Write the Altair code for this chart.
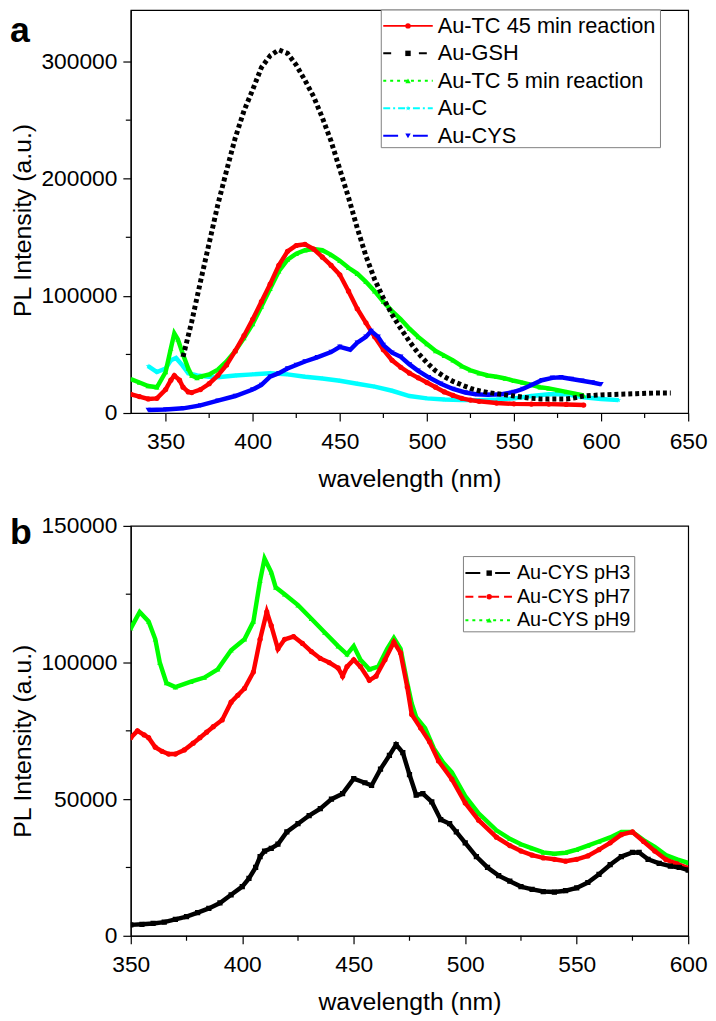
import altair as alt
import pandas as pd

FONT = "Liberation Sans"

# ---------------- Panel a data ----------------
a_names = ["Au-TC 45 min reaction", "Au-GSH", "Au-TC 5 min reaction", "Au-C", "Au-CYS"]
a_colors = ["#ff0000", "#000000", "#00ff00", "#00ffff", "#0000ff"]

tc45_nm = [330, 335, 340, 345, 350, 353, 355, 358, 360, 363, 365, 370, 375, 380, 385, 390, 395, 400, 405, 410,
           415, 420, 425, 430, 435, 440, 445, 450, 455, 460, 465, 470, 475, 480, 485, 490, 495, 500, 505, 510,
           515, 520, 525, 530, 540, 550, 560, 570, 580, 590]
tc45_val = [16000, 14000, 12000, 12500, 20000, 28000, 32000, 28000, 22000, 18000, 17500, 20000, 25000, 32000,
            41000, 53000, 66000, 80000, 95000, 110000, 126000, 138000, 143000, 144000, 140000, 133000, 126000,
            118000, 104000, 89000, 77000, 65000, 54000, 45000, 39000, 34000, 30000, 26000, 22000, 18000, 15000,
            12500, 11000, 10000, 8500, 7800, 7600, 7600, 7300, 6800]

gsh_nm = [360, 365, 370, 375, 380, 385, 390, 395, 400, 405, 410, 415, 420, 425, 430, 435, 440, 445, 450, 455,
          460, 465, 470, 475, 480, 485, 490, 495, 500, 505, 510, 515, 520, 525, 530, 535, 540, 545, 550, 555,
          560, 565, 570, 575, 580, 585, 590, 595, 600, 610, 620, 630, 640]
gsh_val = [48000, 78000, 112000, 145000, 178000, 207000, 235000, 258000, 276000, 295000, 305000, 310000, 307000,
           297000, 284000, 270000, 252000, 232000, 208000, 184000, 158000, 134000, 114000, 98000, 84000, 72000,
           61000, 51000, 43000, 36000, 31000, 27000, 24000, 21000, 19000, 17500, 16500, 15500, 14500, 13500,
           12500, 12000, 12000, 12000, 12000, 13000, 14500, 15000, 15500, 16000, 16500, 17000, 17000]

tc5_nm = [330, 335, 340, 345, 350, 353, 355, 357, 360, 363, 365, 368, 370, 375, 380, 385, 390, 395, 400, 405,
          410, 415, 420, 425, 430, 435, 440, 445, 450, 455, 460, 465, 470, 475, 480, 485, 490, 495, 500, 505,
          510, 515, 520, 525, 530, 535, 540, 545, 550, 555, 560, 565, 570, 575, 580, 585, 590]
tc5_val = [29000, 26000, 23000, 22000, 35000, 55000, 68000, 63000, 50000, 38000, 32000, 30000, 31000, 33000,
           37000, 44000, 53000, 64000, 76000, 91000, 106000, 121000, 131000, 136000, 139000, 140000, 139000,
           135000, 130000, 124000, 119000, 112000, 104000, 95000, 87000, 80000, 72000, 65000, 59000, 53000,
           49000, 45000, 40000, 36500, 34000, 32000, 31000, 29500, 27500, 26000, 24000, 22000, 21000, 19500,
           18000, 16500, 15000]

auc_nm = [340, 345, 350, 353, 356, 360, 363, 368, 375, 380, 390, 400, 410, 420, 430, 440, 450, 460, 470, 480,
          490, 500, 510, 520, 530, 540, 550, 560, 570, 580, 590, 600, 610]
auc_val = [40000, 35000, 38000, 45000, 47000, 40000, 34000, 32000, 31000, 30500, 32000, 33000, 34000, 33000,
           31000, 29500, 27500, 25000, 22500, 19000, 14500, 12500, 11500, 11000, 11000, 11500, 12500, 14500,
           16000, 16000, 13500, 12000, 11000]

cys_nm = [340, 350, 360, 370, 380, 390, 400, 405, 410, 415, 420, 425, 430, 437, 445, 450, 456, 460, 465, 468,
          472, 475, 480, 485, 490, 495, 501, 508, 515, 522, 528, 535, 543, 550, 555, 560, 566, 572, 577, 583,
          589, 595, 600]
cys_val = [2500, 3000, 4000, 6500, 10500, 14500, 20000, 24000, 31000, 34000, 38000, 41000, 44000, 47500, 52000,
           56500, 54000, 60000, 65000, 70000, 65000, 58000, 51500, 48000, 41500, 36000, 30500, 25000, 20500,
           17500, 16000, 15500, 16000, 18000, 20500, 24000, 28000, 30000, 30500, 29000, 27500, 26000, 24500]

a_x_major = [350, 400, 450, 500, 550, 600, 650]
a_x_minor = [375, 425, 475, 525, 575, 625]
a_y_major = [0, 100000, 200000, 300000]
a_y_minor = [50000, 150000, 250000]

# ---------------- Panel b data ----------------
b_names = ["Au-CYS pH3", "Au-CYS pH7", "Au-CYS pH9"]
b_colors = ["#000000", "#ff0000", "#00ff00"]

p3_nm = [350, 355, 360, 365, 370, 375, 380, 385, 390, 395, 400, 403, 406, 408, 410, 413, 416, 420, 425, 430,
         435, 440, 445, 450, 455, 458, 462, 466, 469, 472, 475, 478, 481, 485, 489, 493, 496, 500, 505, 510,
         515, 520, 525, 530, 535, 540, 545, 550, 555, 560, 565, 570, 575, 578, 582, 587, 592, 596, 600]
p3_val = [4000, 4200, 4500, 5000, 6000, 7000, 8500, 10000, 12000, 15000, 18000, 21000, 25000, 29000, 31000,
          32000, 33500, 38000, 41000, 44000, 46500, 50000, 52000, 57500, 56000, 55000, 61000, 66000, 70000,
          67000, 59000, 51500, 52000, 49000, 42500, 41000, 38000, 34000, 29000, 25000, 22000, 20000, 18000,
          17000, 16200, 16000, 16500, 17500, 19500, 22500, 26000, 29000, 30500, 30500, 28000, 26500, 25500,
          25000, 24000]

p7_nm = [350, 353, 356, 358, 361, 364, 367, 370, 374, 378, 381, 384, 387, 391, 395, 398, 401, 405, 408, 411,
         413, 416, 419, 423, 427, 431, 435, 439, 443, 445, 447, 450, 453, 457, 460, 464, 468, 471, 474, 476,
         480, 484, 488, 494, 500, 506, 514, 520, 525, 530, 535, 540, 545, 550, 555, 560, 565, 570, 575, 580,
         585, 590, 595, 600]
p7_val = [72500, 75000, 73500, 72500, 69000, 67500, 66500, 66500, 68000, 70500, 72500, 74500, 76500, 79000,
          85500, 88000, 90500, 96500, 108500, 118500, 113500, 105000, 108500, 109500, 107000, 104000, 101500,
          100000, 98000, 95000, 98500, 101000, 98500, 93500, 95000, 101000, 107500, 103500, 91000, 81000,
          76000, 71000, 64000, 57300, 48600, 42300, 36100, 33000, 31000, 29500, 28500, 28000, 27300, 28000,
          29200, 31500, 34000, 37000, 38000, 34500, 31000, 27900, 26300, 24800]

p9_nm = [350, 354, 358, 361, 363, 366, 370, 377, 383, 389, 395, 401, 405, 408, 410, 413, 415, 419, 425, 431,
         437, 443, 447, 450, 453, 457, 461, 465, 468, 471, 474, 476, 478, 482, 486, 490, 494, 500, 506, 514,
         520, 525, 530, 535, 540, 545, 550, 555, 560, 565, 570, 575, 580, 585, 590, 595, 600]
p9_val = [112500, 118500, 115000, 108500, 100000, 92500, 91000, 93000, 94500, 97500, 104500, 108500, 115000,
          130000, 138000, 133000, 127500, 125000, 121000, 116000, 111000, 106000, 103000, 106000, 101000,
          97500, 98500, 105000, 109000, 105000, 92500, 85000, 80000, 76000, 68500, 63500, 59800, 51100, 44800,
          38600, 35500, 33500, 32000, 30500, 30000, 30400, 31500, 33000, 34500, 36000, 38000, 38000, 35000,
          32500, 29500, 28000, 26700]

b_x_major = [350, 400, 450, 500, 550, 600]
b_x_minor = [375, 425, 475, 525, 575]
b_y_major = [0, 50000, 100000, 150000]
b_y_minor = [25000, 75000, 125000]

STAR = ("M0,-1L0.2245,-0.309L0.951,-0.309L0.363,0.118L0.588,0.809L0,0.382L-0.588,0.809"
        "L-0.363,0.118L-0.951,-0.309L-0.2245,-0.309Z")


def build_panel(series, names, colors, shapes, leg_dashes, order, dashed, x_dom, x_major, x_minor,
                y_dom, y_major, y_minor, width, height, title_y, letter, letter_y,
                box, rows, sym, text_x, leg_fs):
    xaxis = alt.Axis(values=x_major, title="wavelength (nm)", format="d", grid=False,
                     labelFlush=False, labelOverlap=False, tickSize=8, labelPadding=10,
                     titleY=74, titleBaseline="alphabetic")
    yaxis = alt.Axis(values=y_major, title="PL Intensity (a.u.)", format="d", grid=False,
                     labelFlush=False, labelOverlap=False, tickSize=8, labelPadding=6,
                     titleX=-101, titleY=title_y, titleAngle=270, titleAlign="center",
                     titleBaseline="alphabetic")
    xs = alt.Scale(domain=x_dom, nice=False, zero=False)
    ys = alt.Scale(domain=y_dom, nice=False, zero=False)

    layers = []
    for name in order:
        nm, val = series[name]
        i = names.index(name)
        df = pd.DataFrame({"nm": nm, "val": val})
        enc = dict(x=alt.X("nm:Q", scale=xs, axis=xaxis), y=alt.Y("val:Q", scale=ys, axis=yaxis))
        if name in dashed:
            layers.append(alt.Chart(df).mark_line(color=colors[i], strokeWidth=5, strokeDash=[4, 3],
                                                  clip=True).encode(**enc))
        else:
            layers.append(alt.Chart(df).mark_line(color=colors[i], strokeWidth=4.5, clip=True).encode(**enc))
            layers.append(alt.Chart(df).mark_point(color=colors[i], shape=shapes[i], filled=True, size=28,
                                                   opacity=1, clip=True).encode(**enc))

    xmin = pd.DataFrame({"t": x_minor})
    layers.append(alt.Chart(xmin).mark_rule(color="black", strokeWidth=1.2).encode(
        x=alt.X("t:Q", scale=xs, axis=xaxis), y=alt.value(height), y2=alt.value(height + 5)))
    ymin = pd.DataFrame({"t": y_minor})
    layers.append(alt.Chart(ymin).mark_rule(color="black", strokeWidth=1.2).encode(
        y=alt.Y("t:Q", scale=ys, axis=yaxis), x=alt.value(0), x2=alt.value(-5)))
    layers.append(alt.Chart(pd.DataFrame({"t": [letter]})).mark_text(
        font=FONT, fontSize=36, fontWeight="bold", align="left", baseline="alphabetic", color="black"
    ).encode(text="t:N", x=alt.value(-122), y=alt.value(letter_y)))
    main = alt.layer(*layers)

    leg = pd.DataFrame({"series": names, "row": list(range(len(names)))})
    cscale = alt.Scale(domain=names, range=colors)
    lscale = alt.Scale(domain=[0, len(names) - 1], range=rows, nice=False, zero=False)
    box_l = alt.Chart(pd.DataFrame({"k": [0]})).mark_rect(fill="white", stroke="#7f7f7f", strokeWidth=1).encode(
        x=alt.value(box[0]), x2=alt.value(box[1]), y=alt.value(box[2]), y2=alt.value(box[3]))
    rule_l = alt.Chart(leg).mark_rule(strokeWidth=2).encode(
        x=alt.value(sym[0]), x2=alt.value(sym[2]),
        y=alt.Y("row:Q", scale=lscale, axis=None),
        color=alt.Color("series:N", scale=cscale, legend=None),
        strokeDash=alt.StrokeDash("series:N", scale=alt.Scale(domain=names, range=leg_dashes), legend=None))
    pt_l = alt.Chart(leg).mark_point(filled=True, size=30, opacity=1).encode(
        x=alt.value(sym[1]),
        y=alt.Y("row:Q", scale=lscale, axis=None),
        color=alt.Color("series:N", scale=cscale, legend=None),
        shape=alt.Shape("series:N", scale=alt.Scale(domain=names, range=shapes), legend=None))
    txt_l = alt.Chart(leg).mark_text(font=FONT, fontSize=leg_fs, align="left", baseline="middle",
                                     color="black").encode(
        x=alt.value(text_x), y=alt.Y("row:Q", scale=lscale, axis=None), text="series:N")
    legend = alt.layer(box_l, rule_l, pt_l, txt_l)

    return alt.layer(main, legend).resolve_scale(y="independent").properties(width=width, height=height)


series_a = {
    "Au-TC 45 min reaction": (tc45_nm, tc45_val),
    "Au-GSH": (gsh_nm, gsh_val),
    "Au-TC 5 min reaction": (tc5_nm, tc5_val),
    "Au-C": (auc_nm, auc_val),
    "Au-CYS": (cys_nm, cys_val),
}
panel_a = build_panel(
    series_a, a_names, a_colors,
    ["circle", "square", "triangle-up", STAR, "triangle-down"],
    [[1, 0], [8, 28], [3, 4], [7, 3, 2, 3], [15, 15]],
    ["Au-C", "Au-TC 5 min reaction", "Au-TC 45 min reaction", "Au-CYS", "Au-GSH"],
    ["Au-GSH"],
    [330, 650], a_x_major, a_x_minor, [0, 344000], a_y_major, a_y_minor,
    563, 407, 212, "a", 32,
    [253, 535, 0, 139], [16, 127], [255, 280, 305], 310, 22)

series_b = {
    "Au-CYS pH3": (p3_nm, p3_val),
    "Au-CYS pH7": (p7_nm, p7_val),
    "Au-CYS pH9": (p9_nm, p9_val),
}
panel_b = build_panel(
    series_b, b_names, b_colors,
    ["square", "circle", "triangle-up"],
    [[15, 15], [8, 5], [3, 4]],
    ["Au-CYS pH9", "Au-CYS pH7", "Au-CYS pH3"],
    [],
    [350, 600], b_x_major, b_x_minor, [0, 150000], b_y_major, b_y_minor,
    563, 414, 217, "b", 18,
    [336, 509, 31, 107], [47.7, 95.3], [338, 362, 386], 390, 20)

chart = alt.vconcat(panel_a, panel_b, spacing=22).resolve_scale(
    color="independent", shape="independent", strokeDash="independent"
).properties(
    padding={"left": 1, "top": -5, "right": 0, "bottom": 0}
).configure_view(stroke="black", strokeWidth=1.2).configure_axis(
    domainColor="black", domainWidth=1.2, tickColor="black", tickWidth=1.2,
    labelFont=FONT, labelFontSize=23, labelColor="black",
    titleFont=FONT, titleFontSize=25, titleFontWeight="normal", titleColor="black"
)

chart.save("out.html", embed_options={"renderer": "svg", "actions": False})
